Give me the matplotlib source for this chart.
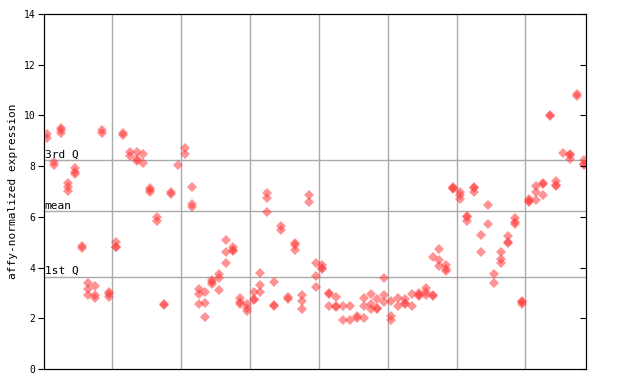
import numpy as np
import matplotlib
matplotlib.use('Agg')
import matplotlib.pyplot as plt

# expression values per sample, in groups of ten samples (one group per grid cell)
group_1 = [[9.25, 9.12], [8.15, 8.05], [9.5, 9.42, 9.3], [7.33, 7.18, 7.02],
           [7.93, 7.77, 7.69], [4.85, 4.77], [3.38, 3.15, 2.9], [3.27, 2.92, 2.8],
           [9.42, 9.3], [3.05, 2.95, 2.85]]
group_2 = [[5.0, 4.82, 4.8], [9.3, 9.22], [8.57, 8.4], [8.57, 8.28, 8.2],
           [8.48, 8.12], [7.14, 7.05, 7.0], [6.0, 5.84], [2.58, 2.54],
           [6.97, 6.92], [8.04]]
group_3 = [[8.72, 8.48], [7.18, 6.5, 6.4], [3.15, 2.95, 2.55], [3.05, 2.6, 2.05],
           [3.5, 3.45, 3.35], [3.75, 3.6, 3.1], [5.1, 4.6, 4.2], [4.8, 4.7, 4.65],
           [2.8, 2.65, 2.55], [2.55, 2.4, 2.3]]
group_4 = [[3.05, 2.75, 2.72], [3.8, 3.3, 3.05], [6.95, 6.75, 6.2], [3.45, 2.52, 2.48],
           [5.62, 5.5], [2.82, 2.75], [4.97, 4.9, 4.7], [2.9, 2.7, 2.35],
           [6.85, 6.6], [4.2, 3.65, 3.25]]
group_5 = [[4.1, 3.98, 3.95], [3.0, 2.95, 2.5], [2.85, 2.5, 2.45], [2.5, 1.95],
           [2.5, 1.95], [2.08, 2.02], [2.8, 2.5, 2.0], [2.95, 2.55, 2.35],
           [2.75, 2.42, 2.38], [3.6, 2.9, 2.65]]
group_6 = [[2.7, 2.1, 1.95], [2.8, 2.5], [2.75, 2.62, 2.58], [2.95, 2.5],
           [3.0, 2.92, 2.88], [3.2, 3.05, 2.9], [4.4, 2.92, 2.88], [4.75, 4.3, 4.05],
           [4.1, 3.95, 3.85], [7.17, 7.13, 7.1]]
group_7 = [[7.0, 6.85, 6.7], [6.02, 5.98, 5.85], [7.17, 7.13, 7.0], [5.3, 4.6],
           [6.45, 5.7], [3.75, 3.4], [4.6, 4.35, 4.2], [5.25, 5.0, 4.95],
           [5.95, 5.8, 5.7], [2.67, 2.63, 2.55]]
group_8 = [[6.7, 6.62, 6.58], [7.2, 7.0, 6.65], [7.32, 7.28, 6.85], [10.0, 9.96],
           [7.4, 7.27, 7.23], [8.5], [8.47, 8.43, 8.3], [10.85, 10.78],
           [8.25, 8.07, 8.03]]

q1 = 3.63
mean_val = 6.22
q3 = 8.23

samples = group_1 + group_2 + group_3 + group_4 + group_5 + group_6 + group_7 + group_8
xs = []
ys = []
for i, vals in enumerate(samples):
    for v in vals:
        xs.append(i)
        ys.append(v)

fig = plt.figure(figsize=(6.4, 3.84), dpi=100)
ax = fig.add_axes([44/640, 15/384, 542/640, 355/384])

font = 'DejaVu Sans Mono'

# quartile / mean lines
for y in [q1, mean_val, q3]:
    ax.axhline(y, color='#aaaaaa', lw=1, zorder=1)
# vertical separators every ten samples
for x in np.arange(9.5, len(samples) - 1, 10):
    ax.axvline(x, color='#aaaaaa', lw=1, zorder=1)

ax.plot(xs, ys, 'D', color='#ff3b3b', ms=4.7, mew=0, alpha=0.55, zorder=3)

ax.text(-0.35, q3 + 0.03, '3rd Q', fontsize=8, family=font, va='bottom', ha='left')
ax.text(-0.35, mean_val + 0.03, 'mean', fontsize=8, family=font, va='bottom', ha='left')
ax.text(-0.35, q1 + 0.03, '1st Q', fontsize=8, family=font, va='bottom', ha='left')

ax.set_xlim(-0.45, 78.3)
ax.set_ylim(0, 14)
ax.set_yticks(np.arange(0, 15, 2))
ax.set_xticks([])
ax.tick_params(axis='y', direction='out', length=4, labelsize=7, pad=2)
for lab in ax.get_yticklabels():
    lab.set_family(font)

# inward ticks on the right side
ax2 = ax.twinx()
ax2.set_ylim(0, 14)
ax2.set_yticks(np.arange(0, 15, 2))
ax2.tick_params(axis='y', direction='in', length=4, labelright=False)

ax.set_ylabel('affy-normalized expression', fontsize=8, family=font, labelpad=4)

plt.savefig('out.png', dpi=100)
